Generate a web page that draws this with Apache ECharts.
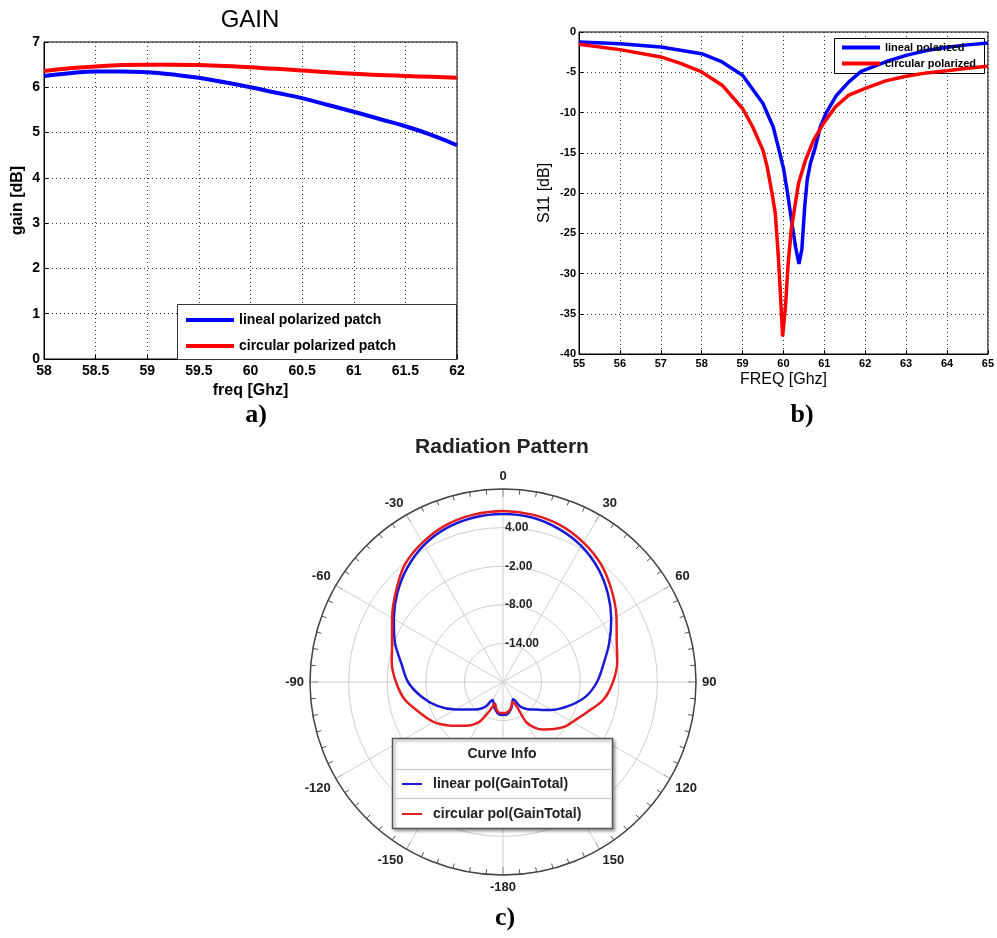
<!DOCTYPE html>
<html>
<head>
<meta charset="utf-8">
<script src="https://cdn.jsdelivr.net/npm/echarts@6/dist/echarts.min.js"></script>
<style>
  html, body { margin: 0; padding: 0; background: #fff; }
  #chart { width: 997px; height: 938px; }
</style>
</head>
<body>
<div id="chart"></div>
<script>
// a) gain vs frequency
var gainFreq = [58, 58.25, 58.5, 58.75, 59, 59.25, 59.5, 59.75, 60, 60.25, 60.5, 60.75, 61, 61.25, 61.5, 61.75, 62];
var gainLineal = [6.25, 6.31, 6.35, 6.35, 6.33, 6.28, 6.21, 6.11, 6.0, 5.88, 5.76, 5.61, 5.46, 5.30, 5.14, 4.95, 4.72];
var gainCircular = [6.36, 6.42, 6.46, 6.49, 6.5, 6.5, 6.49, 6.47, 6.44, 6.41, 6.37, 6.33, 6.30, 6.27, 6.25, 6.23, 6.21];

// b) S11
var s11FreqLineal = [55, 56, 57, 58, 58.5, 59, 59.5, 59.75, 59.85, 60, 60.1, 60.2, 60.3, 60.38, 60.45, 60.52, 60.58, 60.66, 60.78, 60.9, 61.05, 61.3, 61.6, 61.9, 62.25, 62.5, 63, 63.5, 64, 64.5, 65];
var s11Lineal = [-1.24, -1.45, -1.86, -2.69, -3.72, -5.37, -8.88, -11.8, -13.8, -16.9, -20.0, -23.5, -26.8, -28.8, -27.0, -21.7, -18.4, -16.3, -14.3, -11.8, -10.0, -7.85, -6.2, -4.9, -4.2, -3.7, -2.9, -2.3, -1.9, -1.6, -1.36];
var s11FreqCircular = [55, 56, 57, 57.5, 58, 58.5, 59, 59.25, 59.5, 59.6, 59.72, 59.8, 59.87, 59.93, 59.98, 60.05, 60.11, 60.19, 60.29, 60.37, 60.54, 60.74, 61, 61.27, 61.6, 62, 62.5, 63, 63.5, 64, 64.5, 65];
var s11Circular = [-1.53, -2.19, -3.1, -3.93, -4.96, -6.61, -9.5, -11.8, -14.7, -16.7, -20.0, -22.5, -27.5, -32.9, -37.8, -34.1, -29.1, -24.6, -21.3, -18.8, -15.9, -13.4, -11.2, -9.3, -7.85, -7.0, -6.07, -5.5, -5.08, -4.8, -4.5, -4.26];

// c) radiation pattern (deg, dB)
var patAngle = [-180, -175, -170, -165, -160, -155, -150, -145, -140, -135, -130, -125, -120, -110, -100, -90, -80, -70, -60, -50, -40, -30, -20, -10, 0,
                10, 20, 30, 40, 50, 60, 70, 80, 90, 100, 110, 120, 125, 130, 135, 140, 145, 150, 155, 160, 165, 170, 175, 180];
var patLinear = [-14.87, -14.87, -15.10, -15.49, -15.96, -16.5, -16.75, -15.34, -14.56, -13.94, -13.32, -12.54, -11.45, -9.12, -7.10, -5.23, -3.99, -2.12, -0.41, 1.45, 3.16, 4.56, 5.49, 5.96, 6.11,
                 5.96, 5.34, 4.40, 3.01, 1.30, -0.57, -2.44, -4.15, -5.39, -6.94, -9.12, -11.30, -12.38, -13.32, -13.94, -14.56, -15.34, -16.89, -16.58, -15.96, -15.49, -15.10, -14.87, -14.87];
var patCircular = [-15.18, -15.18, -15.34, -15.80, -16.42, -15.03, -13.01, -11.92, -11.14, -10.36, -9.43, -8.50, -7.56, -6.17, -4.46, -3.37, -2.44, -1.66, -0.10, 1.76, 3.78, 5.03, 5.96, 6.42, 6.58,
                   6.42, 5.96, 5.03, 3.78, 2.07, 0.36, -1.19, -1.97, -2.90, -4.15, -6.17, -7.56, -8.03, -8.81, -9.59, -10.36, -11.30, -12.85, -16.58, -16.11, -15.65, -15.34, -15.18, -15.18];

var radTicks = [-20, -14, -8, -2, 4, 10];

var BLUE = '#0000ff', RED = '#ff0000';
var PBLUE = '#1a1ad6', PRED = '#e41e1e';
var SANS = 'Liberation Sans, Arial, sans-serif';

function pairs(xs, ys) {
  return xs.map(function (x, i) { return [x, ys[i]]; });
}
function polarPairs(angles, vals) {
  return angles.map(function (a, i) { return [vals[i], (a + 360) % 360]; });
}

function cartAxes(idx, o) {
  return {
    type: 'value', gridIndex: idx, min: o.min, max: o.max, interval: o.interval,
    name: o.name, nameLocation: 'middle', nameGap: o.nameGap,
    nameTextStyle: { fontFamily: SANS, fontSize: 16, fontWeight: o.nameBold ? 'bold' : 'normal', color: '#000' },
    axisLine: { show: true, onZero: false, lineStyle: { color: '#000', width: 1 } },
    axisTick: { show: true, inside: true, length: 4, lineStyle: { color: '#000' } },
    axisLabel: { fontFamily: SANS, fontSize: o.labelSize, fontWeight: 'bold', color: '#000', margin: o.margin },
    splitLine: { show: true, lineStyle: { color: '#333', type: [1, 3], width: 1 } }
  };
}

var chart = echarts.init(document.getElementById('chart'));
chart.setOption({
  animation: false,
  backgroundColor: '#fff',
  grid: [
    { left: 44, top: 42, width: 413, height: 317, show: true, borderColor: '#000', borderWidth: 1 },
    { left: 579, top: 32, width: 411, height: 322, show: true, borderColor: '#000', borderWidth: 1 }
  ],
  xAxis: [
    cartAxes(0, { min: 58, max: 62, interval: 0.5, name: 'freq [Ghz]', nameGap: 24, nameBold: true, labelSize: 14, margin: 5 }),
    cartAxes(1, { min: 55, max: 65, interval: 1, name: 'FREQ [Ghz]', nameGap: 18, nameBold: false, labelSize: 11, margin: 4 })
  ],
  yAxis: [
    cartAxes(0, { min: 0, max: 7, interval: 1, name: 'gain [dB]', nameGap: 18, nameBold: true, labelSize: 14, margin: 4 }),
    cartAxes(1, { min: -40, max: 0, interval: 5, name: 'S11 [dB]', nameGap: 26, nameBold: false, labelSize: 11, margin: 3 })
  ],
  polar: { center: [503, 682], radius: 193 },
  angleAxis: {
    type: 'value', min: 0, max: 360, interval: 30, startAngle: 90, clockwise: true,
    axisLine: { lineStyle: { color: '#444', width: 1.5 } },
    axisTick: { show: true, inside: true, length: 8, lineStyle: { color: '#444' } },
    minorTick: { show: true, splitNumber: 6, length: 5, lineStyle: { color: '#555' } },
    axisLabel: {
      margin: 6, fontFamily: SANS, fontSize: 13, fontWeight: 'bold', color: '#222',
      formatter: function (v) {
        if (v === 360) return '';
        if (v === 180) return '-180';
        return v > 180 ? String(v - 360) : String(v);
      }
    },
    splitLine: { show: true, lineStyle: { color: '#d0d0d0', width: 1 } }
  },
  radiusAxis: {
    type: 'value', min: radTicks[0], max: radTicks[radTicks.length - 1], interval: 6,
    axisLine: { show: false }, axisTick: { show: false },
    axisLabel: {
      fontFamily: SANS, fontSize: 12, fontWeight: 'bold', color: '#222', align: 'left', margin: -2,
      formatter: function (v) { return (v === radTicks[0] || v === radTicks[radTicks.length - 1]) ? '' : v.toFixed(2); }
    },
    splitLine: { show: true, lineStyle: { color: '#cfcfcf', width: 1 } }
  },
  legend: [
    {
      left: 186, top: 313, padding: 0, orient: 'vertical', itemGap: 12, itemWidth: 48, itemHeight: 4, icon: 'rect',
      data: ['lineal polarized patch', 'circular polarized patch'],
      textStyle: { fontFamily: SANS, fontSize: 14, fontWeight: 'bold', color: '#000' }
    },
    {
      left: 842, top: 42, padding: 0, orient: 'vertical', itemGap: 5, itemWidth: 38, itemHeight: 4, icon: 'rect',
      data: ['lineal polarized', 'circular polarized'],
      textStyle: { fontFamily: SANS, fontSize: 11, fontWeight: 'bold', color: '#000' }
    },
    {
      left: 402, top: 777, padding: 0, orient: 'vertical', itemGap: 16, itemWidth: 20, itemHeight: 2, icon: 'rect',
      data: ['linear pol(GainTotal)', 'circular pol(GainTotal)'],
      textStyle: { fontFamily: SANS, fontSize: 14, fontWeight: 'bold', color: '#222', padding: [0, 0, 0, 6] }
    }
  ],
  graphic: [
    { type: 'text', x: 250, y: 20, z: 5, style: { text: 'GAIN', fontFamily: SANS, fontSize: 24, fill: '#000', textAlign: 'center', textVerticalAlign: 'middle' } },
    { type: 'text', x: 502, y: 447, z: 5, style: { text: 'Radiation Pattern', fontFamily: SANS, fontSize: 21, fontWeight: 'bold', fill: '#222', textAlign: 'center', textVerticalAlign: 'middle' } },
    { type: 'rect', z: 3, shape: { x: 177.5, y: 304.5, width: 279, height: 55 }, style: { fill: '#fff', stroke: '#333', lineWidth: 1 } },
    { type: 'rect', z: 3, shape: { x: 834.5, y: 38.5, width: 150, height: 35 }, style: { fill: '#fff', stroke: '#000', lineWidth: 1 } },
    { type: 'rect', z: 3, shape: { x: 392.5, y: 738.5, width: 220, height: 90 }, style: { fill: '#fff', stroke: '#555', lineWidth: 1.5, shadowBlur: 3, shadowOffsetX: 2, shadowOffsetY: 2, shadowColor: 'rgba(0,0,0,0.35)' } },
    { type: 'line', z: 3, shape: { x1: 393, y1: 769.5, x2: 612, y2: 769.5 }, style: { stroke: '#c8c8c8', lineWidth: 1 } },
    { type: 'line', z: 3, shape: { x1: 393, y1: 798.5, x2: 612, y2: 798.5 }, style: { stroke: '#c8c8c8', lineWidth: 1 } },
    { type: 'text', x: 502, y: 754, z: 5, style: { text: 'Curve Info', fontFamily: SANS, fontSize: 14, fontWeight: 'bold', fill: '#222', textAlign: 'center', textVerticalAlign: 'middle' } },
    { type: 'text', x: 256, y: 415, z: 5, style: { text: 'a)', fontFamily: 'Liberation Serif, Times New Roman, serif', fontSize: 26, fontWeight: 'bold', fill: '#000', textAlign: 'center', textVerticalAlign: 'middle' } },
    { type: 'text', x: 802, y: 415, z: 5, style: { text: 'b)', fontFamily: 'Liberation Serif, Times New Roman, serif', fontSize: 26, fontWeight: 'bold', fill: '#000', textAlign: 'center', textVerticalAlign: 'middle' } },
    { type: 'text', x: 505, y: 918, z: 5, style: { text: 'c)', fontFamily: 'Liberation Serif, Times New Roman, serif', fontSize: 26, fontWeight: 'bold', fill: '#000', textAlign: 'center', textVerticalAlign: 'middle' } }
  ],
  series: [
    { name: 'lineal polarized patch', type: 'line', xAxisIndex: 0, yAxisIndex: 0, symbol: 'none', smooth: true,
      data: pairs(gainFreq, gainLineal), lineStyle: { color: BLUE, width: 4 }, itemStyle: { color: BLUE } },
    { name: 'circular polarized patch', type: 'line', xAxisIndex: 0, yAxisIndex: 0, symbol: 'none', smooth: true,
      data: pairs(gainFreq, gainCircular), lineStyle: { color: RED, width: 4 }, itemStyle: { color: RED } },
    { name: 'lineal polarized', type: 'line', xAxisIndex: 1, yAxisIndex: 1, symbol: 'none',
      data: pairs(s11FreqLineal, s11Lineal), lineStyle: { color: BLUE, width: 3.5 }, itemStyle: { color: BLUE } },
    { name: 'circular polarized', type: 'line', xAxisIndex: 1, yAxisIndex: 1, symbol: 'none',
      data: pairs(s11FreqCircular, s11Circular), lineStyle: { color: RED, width: 3.5 }, itemStyle: { color: RED } },
    { name: 'linear pol(GainTotal)', type: 'line', coordinateSystem: 'polar', symbol: 'none', smooth: 0.3,
      data: polarPairs(patAngle, patLinear), lineStyle: { color: PBLUE, width: 2.5 }, itemStyle: { color: PBLUE } },
    { name: 'circular pol(GainTotal)', type: 'line', coordinateSystem: 'polar', symbol: 'none', smooth: 0.3,
      data: polarPairs(patAngle, patCircular), lineStyle: { color: PRED, width: 2.5 }, itemStyle: { color: PRED } }
  ]
});
</script>
</body>
</html>
